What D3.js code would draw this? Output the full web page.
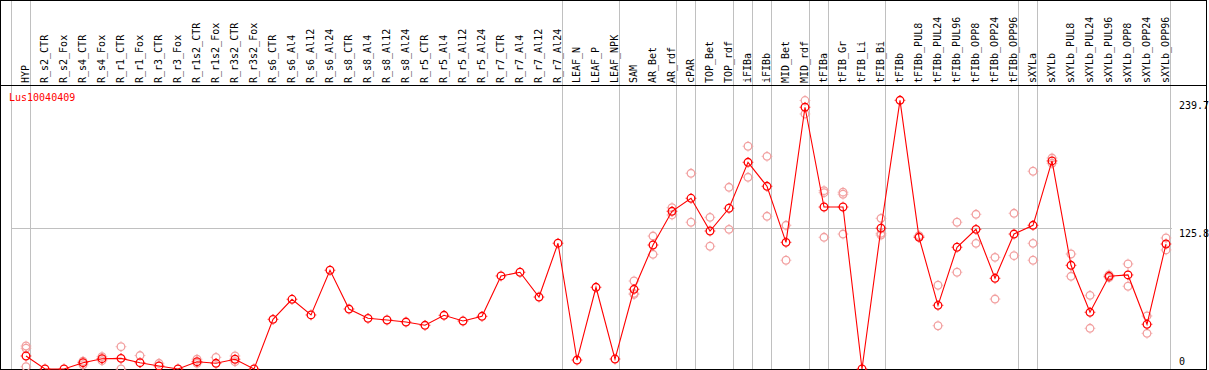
<html>
<head>
<script src="https://d3js.org/d3.v7.min.js"></script>
<style>
  body { margin: 0; background: #fff; }
  text { font-family: "DejaVu Sans Mono", monospace; }
</style>
</head>
<body>
<div id="chartDiv1"></div>
<script>

// category names, left to right
const categories = ["HYP","R_s2_CTR","R_s2_Fox","R_s4_CTR","R_s4_Fox","R_r1_CTR","R_r1_Fox","R_r3_CTR","R_r3_Fox",
  "R_r1s2_CTR","R_r1s2_Fox","R_r3s2_CTR","R_r3s2_Fox","R_s6_CTR","R_s6_Al4","R_s6_Al12","R_s6_Al24",
  "R_s8_CTR","R_s8_Al4","R_s8_Al12","R_s8_Al24","R_r5_CTR","R_r5_Al4","R_r5_Al12","R_r5_Al24",
  "R_r7_CTR","R_r7_Al4","R_r7_Al12","R_r7_Al24","LEAF_N","LEAF_P","LEAF_NPK","SAM","AR_Bet","AR_rdf",
  "cPAR","TOP_Bet","TOP_rdf","iFIBa","iFIBb","MID_Bet","MID_rdf","tFIBa","tFIB_Gr","tFIB_Li","tFIB_Bi",
  "tFIBb","tFIBb_PUL8","tFIBb_PUL24","tFIBb_PUL96","tFIBb_OPP8","tFIBb_OPP24","tFIBb_OPP96",
  "sXYLa","sXYLb","sXYLb_PUL8","sXYLb_PUL24","sXYLb_PUL96","sXYLb_OPP8","sXYLb_OPP24","sXYLb_OPP96"];

// mean expression per sample
const meanValues = [11.6,0,0,5.6,9.2,9.5,5.6,2.7,0,6.5,5.1,8.7,0,44.3,62.2,48.2,88.1,
  53.5,45.2,43.7,41.9,39.0,47.9,42.8,47.0,83.0,86.3,64.2,112.2,8.0,72.9,8.9,71.1,110.6,140.7,
  152.3,123.1,143.4,184.4,163.0,113.0,233.5,144.5,144.5,0,125.6,
  239.7,117.5,56.8,108.6,124.6,80.9,120.4,128.2,185.6,92.5,50.6,82.7,83.9,39.9,111.5];

// replicate values (null = none shown)
const repA = [20.5,null,null,6.9,11.0,19.9,12.0,5.1,null,8.7,10.4,11.6,null,null,null,null,null,
  null,null,null,null,null,null,null,null,null,null,null,null,null,null,null,78.5,118.6,143.9,
  174.6,135.3,162.1,198.7,189.7,128.2,239.5,159.1,157.7,null,134.4,
  null,119.0,74.7,130.9,138.0,99.6,138.9,176.4,188.2,102.6,65.7,84.0,93.7,47.3,116.9];
const repB = [18.5,null,null,3.8,7.4,0,null,null,null,5.1,null,6.5,null,null,null,null,null,
  null,null,null,null,null,null,null,null,null,null,null,null,null,null,null,66.5,102.3,137.4,
  130.9,109.5,124.6,171.0,136.2,97.0,227.5,157.3,155.9,null,121.0,
  null,118.0,38.6,86.3,112.1,62.4,101.1,112.1,183.5,82.7,36.3,81.5,73.8,31.8,106.2];
const repC = [2.0,null,null,null,null,null,null,null,null,null,null,null,null,null,null,null,null,
  null,null,null,null,null,null,null,null,null,null,null,null,null,null,null,67.5,null,null,
  null,null,null,null,null,null,null,117.5,120.4,null,119.5,
  null,null,null,null,null,null,null,97.0,null,null,null,null,null,null,null];

// group boundaries: a grey line right after these samples
const groupEnds = ["HYP","R_r7_Al24","LEAF_NPK","AR_rdf","cPAR","TOP_rdf","iFIBa","iFIBb",
  "MID_rdf","tFIBa","tFIB_Bi","tFIBb_OPP96","sXYLa","sXYLb_OPP96"];

const axisTicks = [0, 125.8, 239.7];
const title = "Lus10040409";

const width = 1209, height = 370;
const headerH = 85, bottom = 369;

const svg = d3.select("#chartDiv1")
  .append("svg")
  .attr("width", width)
  .attr("height", height);

const x = d3.scalePoint()
  .domain(categories)
  .range([26, 1166]);

const y = d3.scaleLinear()
  .domain([0, 239.7])
  .range([bottom, 100.3]);

const step = x.step();

// vertical group separators (full height)
svg.append("line")
  .attr("x1", x(categories[0]) - step + 4.5).attr("x2", x(categories[0]) - step + 4.5)
  .attr("y1", 0).attr("y2", bottom)
  .attr("stroke", "#c0c0c0");
svg.selectAll("sepLine")
  .data(groupEnds)
  .enter()
  .append("line")
  .attr("x1", d => x(d) + 4.5)
  .attr("x2", d => x(d) + 4.5)
  .attr("y1", 0)
  .attr("y2", bottom)
  .attr("stroke", "#c0c0c0");

// horizontal reference line
svg.append("line")
  .attr("x1", 11).attr("x2", 1172)
  .attr("y1", Math.round(y(125.8)) + 0.5).attr("y2", Math.round(y(125.8)) + 0.5)
  .attr("stroke", "#c0c0c0");

// frame + header rule
svg.append("rect")
  .attr("x", 0.5).attr("y", 0.5)
  .attr("width", 1206).attr("height", bottom)
  .attr("fill", "none")
  .attr("stroke", "black");
svg.append("line")
  .attr("x1", 0).attr("x2", 1207)
  .attr("y1", headerH + 0.5).attr("y2", headerH + 0.5)
  .attr("stroke", "black");

// rotated sample labels
svg.selectAll("catLabel")
  .data(categories)
  .enter()
  .append("text")
  .attr("transform", d => "translate(" + (x(d) + 3) + "," + (headerH - 2) + ") rotate(-90)")
  .attr("text-anchor", "start")
  .style("font-size", "10px")
  .attr("fill", "black")
  .text(d => d);

// right side value labels
svg.selectAll("axisLabel")
  .data(axisTicks)
  .enter()
  .append("text")
  .attr("x", 1179)
  .attr("y", d => Math.min(y(d) + 9, 365))
  .style("font-size", "10px")
  .attr("fill", "black")
  .text(d => d);

// title
svg.append("text")
  .attr("x", 9)
  .attr("y", 100.7)
  .style("font-size", "10px")
  .attr("fill", "red")
  .text(title);

// marker: open circle with four tiny ticks
function drawMarker(g, cx, cy, color) {
  const m = g.append("g").attr("transform", "translate(" + cx + "," + cy + ")");
  m.append("circle").attr("r", 3.8).attr("fill", "none").attr("stroke", color).attr("stroke-width", 1.3);
  [[0, -1], [0, 1], [-1, 0], [1, 0]].forEach(([dx, dy]) => {
    m.append("line")
      .attr("x1", dx * 4.3).attr("y1", dy * 4.3)
      .attr("x2", dx * 5.3).attr("y2", dy * 5.3)
      .attr("stroke", color).attr("stroke-width", 1);
  });
}

// replicates first (light)
const reps = [repA, repB, repC];
const repG = svg.append("g");
reps.forEach(arr => {
  arr.forEach((v, i) => {
    if (v === null) return;
    drawMarker(repG, x(categories[i]), y(v), "#f2a0a0");
  });
});

// mean line
const line = d3.line()
  .x((d, i) => x(categories[i]))
  .y(d => y(d));
svg.append("path")
  .datum(meanValues)
  .attr("d", line)
  .attr("fill", "none")
  .attr("stroke", "red")
  .attr("stroke-width", 1.1);

// mean markers
const meanG = svg.append("g");
meanValues.forEach((v, i) => drawMarker(meanG, x(categories[i]), y(v), "red"));

</script>
</body>
</html>
